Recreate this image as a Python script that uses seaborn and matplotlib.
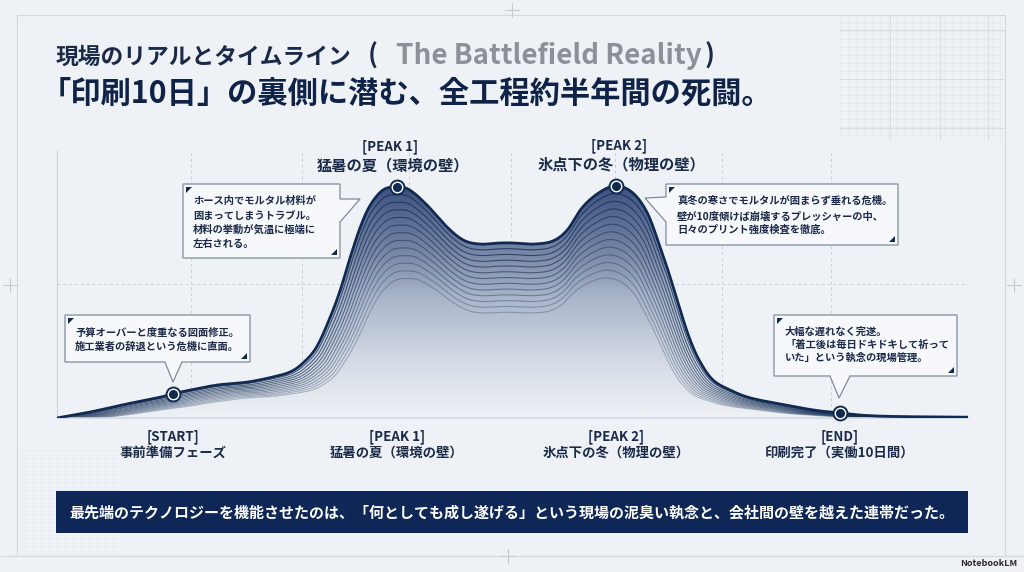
import numpy as np
import pandas as pd
import matplotlib
matplotlib.use("Agg")
import matplotlib.pyplot as plt
import seaborn as sns
from matplotlib.colors import LinearSegmentedColormap
from matplotlib.patches import Polygon, Rectangle

sns.set_theme(style="white")
plt.rcParams["font.family"] = ["Noto Sans CJK JP", "DejaVu Sans"]

# ======================================================
# Data
# ======================================================

# timeline position (0-100) and "pressure" level (0-100)
time_x = [0, 3.6, 7.2, 11.0, 12.7, 14.6, 17.6, 20.9, 23.7, 25.6, 27.0, 28.5,
          30.0, 31.1, 32.2, 33.3, 34.4, 35.8, 37.3, 38.7, 40.6, 42.8, 44.6,
          46.4, 48.6, 50.1, 52.3, 54.4, 56.0, 57.7, 59.6, 61.4, 63.2, 64.8,
          66.2, 67.3, 68.4, 69.5, 70.6, 72.0, 73.9, 76.1, 79.4, 83.0, 85.9,
          90.3, 100]
pressure = [0, 2.2, 4.9, 7.5, 9.0, 10.4, 12.3, 13.4, 15.3, 17.2, 20.5, 26.5,
            37.7, 47.8, 60.1, 71.3, 79.5, 85.1, 86.2, 85.1, 79.5, 71.3, 66.4,
            64.9, 65.3, 65.3, 64.9, 66.0, 70.1, 78.7, 84.3, 86.6, 84.0, 76.5,
            63.8, 52.6, 40.3, 29.1, 20.9, 14.2, 10.4, 7.5, 5.2, 3.0, 1.9,
            0.7, 0.3]

milestone_x = [12.7, 37.3, 61.4, 85.9]
milestone_y = [9.0, 86.2, 86.6, 1.9]
milestone_tags = ["[START]", "[PEAK 1]", "[PEAK 2]", "[END]"]
milestone_names = ["事前準備フェーズ", "猛暑の夏（環境の壁）", "氷点下の冬（物理の壁）", "印刷完了（実働10日間）"]

grid_x = [14.7, 26.9, 38.6, 49.8, 61.3, 73.0, 85.0]
grid_y = [50]

notes = {
    "start": ["予算オーバーと度重なる図面修正。", "施工業者の辞退という危機に直面。"],
    "peak1": ["ホース内でモルタル材料が", "固まってしまうトラブル。", "材料の挙動が気温に極端に", "左右される。"],
    "peak2": ["真冬の寒さでモルタルが固まらず垂れる危機。", "壁が10度傾けば崩壊するプレッシャーの中、", "日々のプリント強度検査を徹底。"],
    "end": ["大幅な遅れなく完遂。", "「着工後は毎日ドキドキして祈って", "いた」という執念の現場管理。"],
}

title_1 = "現場のリアルとタイムライン"
title_1_en = "The Battlefield Reality"
title_2 = "「印刷10日」の裏側に潜む、全工程約半年間の死闘。"
banner = "最先端のテクノロジーを機能させたのは、「何としても成し遂げる」という現場の泥臭い執念と、会社間の壁を越えた連帯だった。"

BG = "#eef2f6"
NAVY = "#112a52"
TXT = "#1b2a48"
GRID = "#d2d8e0"

# ======================================================
# Helpers
# ======================================================

def smooth(xs, ys, n=16):
    # Catmull-Rom pass so the line is drawn round, not angular
    P = np.column_stack([xs, ys]).astype(float)
    P = np.vstack([P[0], P, P[-1]])
    t = np.linspace(0, 1, n, endpoint=False)[:, None]
    out = []
    for i in range(1, len(P) - 2):
        p0, p1, p2, p3 = P[i - 1], P[i], P[i + 1], P[i + 2]
        seg = 0.5 * (2 * p1 + (-p0 + p2) * t
                     + (2 * p0 - 5 * p1 + 4 * p2 - p3) * t ** 2
                     + (-p0 + 3 * p1 - 3 * p2 + p3) * t ** 3)
        out.append(seg)
    out.append(P[-2][None])
    S = np.vstack(out)
    return S[:, 0], np.clip(S[:, 1], 0, None)


def callout(axx, box, tail, side, lines, tx, ty):
    x0, y0, x1, y1 = box
    a, tip, b = tail
    if side == "right":
        pts = [(x0, y0), (x1, y0), a, tip, b, (x1, y1), (x0, y1)]
    elif side == "left":
        pts = [(x0, y0), (x1, y0), (x1, y1), (x0, y1), b, tip, a]
    else:
        pts = [(x0, y0), (x1, y0), (x1, y1), b, tip, a, (x0, y1)]
    axx.add_patch(Polygon(pts, closed=True, facecolor="#f6f8fb",
                          edgecolor="#7f8b9c", lw=0.9, zorder=5))
    axx.add_patch(Polygon([(x0 + 3, y0 + 3), (x0 + 9, y0 + 3), (x0 + 3, y0 + 9)],
                          facecolor=NAVY, edgecolor="none", zorder=6))
    axx.add_patch(Polygon([(x1 - 3, y1 - 3), (x1 - 9, y1 - 3), (x1 - 3, y1 - 9)],
                          facecolor=NAVY, edgecolor="none", zorder=6))
    for line, yy in zip(lines, ty):
        axx.text(tx, yy, line, fontsize=7.4, fontweight="bold", color=TXT,
                 ha="left", va="center", zorder=7)


def frac(x0, y0, x1, y1):
    return [x0 / 1024, 1 - y1 / 572, (x1 - x0) / 1024, (y1 - y0) / 572]

# ======================================================
# Figure
# ======================================================

fig = plt.figure(figsize=(10.24, 5.72), dpi=100, facecolor=BG)

# background layer: frame, blueprint grid
bg = fig.add_axes([0, 0, 1, 1], zorder=0)
bg.set_xlim(0, 1024)
bg.set_ylim(572, 0)
bg.axis("off")

for gx in np.arange(840, 1006, 8):
    bg.plot([gx, gx], [15, 140], color="#e2e7ed", lw=0.4)
for gy in np.arange(15, 141, 8):
    bg.plot([840, 1005], [gy, gy], color="#e2e7ed", lw=0.4)
for gx in [890, 940, 988]:
    bg.plot([gx, gx], [15, 140], color="#d4dae2", lw=0.6)
for gy in [30, 79, 128]:
    bg.plot([840, 1005], [gy, gy], color="#d4dae2", lw=0.6)
for gx in np.arange(17, 120, 8):
    bg.plot([gx, gx], [450, 556], color="#e5e9ee", lw=0.4)
for gy in np.arange(450, 557, 8):
    bg.plot([17, 120], [gy, gy], color="#e5e9ee", lw=0.4)

bg.plot([17, 1005], [15, 15], color=GRID, lw=0.8)
bg.plot([17, 17], [15, 556], color=GRID, lw=0.8)
bg.plot([1005, 1005], [15, 556], color=GRID, lw=0.8)
bg.plot([0, 1024], [556, 556], color=GRID, lw=0.8)
for cx, cy in [(512, 10), (10, 285), (1014, 285), (508, 556)]:
    bg.plot([cx - 7, cx + 7], [cy, cy], color="#c4cbd4", lw=0.8)
    bg.plot([cx, cx], [cy - 7, cy + 7], color="#c4cbd4", lw=0.8)

# ======================================================
# Main timeline chart
# ======================================================

ax = fig.add_axes(frac(57, 150, 968, 418), zorder=1)
ax.set_facecolor("none")
ax.set_xlim(0, 100)
ax.set_ylim(0, 100)

sx, sy = smooth(time_x, pressure)
df = pd.DataFrame({"x": sx, "y": sy})

# gradient fill under the curve
cmap = LinearSegmentedColormap.from_list(
    "fade", [(0, BG), (0.2, "#d6dce6"), (0.45, "#a9b5c9"),
             (0.62, "#7686a5"), (0.86, "#3d5380"), (1, "#2c4170")])
grad = np.linspace(0, 1, 256).reshape(-1, 1)
im = ax.imshow(grad, extent=[0, 100, 0, 100], origin="lower", cmap=cmap,
               aspect="auto", zorder=1)
poly = ax.fill_between(sx, sy, 0, color="none", lw=0)
im.set_clip_path(poly.get_paths()[0], transform=ax.transData)

# layered echo lines under the main curve
center = 50
for k in range(12, 0, -1):
    f = 1 - k * 0.033
    s = 1 - k * 0.008
    yk = f * np.interp(center + (sx - center) / s, sx, sy, left=0, right=0)
    sns.lineplot(x=sx, y=yk, ax=ax, color=NAVY, lw=0.8,
                 alpha=max(0.8 - k * 0.045, 0.28), sort=False, estimator=None, zorder=2)

sns.lineplot(data=df, x="x", y="y", ax=ax, color=NAVY, lw=2.0,
             sort=False, estimator=None, zorder=3)

# milestone markers
ax.plot(milestone_x, milestone_y, "o", ms=10, mfc="white", mec=NAVY, mew=1.4,
        zorder=4, clip_on=False)
ax.plot(milestone_x, milestone_y, "o", ms=5.5, color=NAVY, zorder=5, clip_on=False)

# grid / spines
ax.set_xticks(grid_x, minor=True)
ax.set_yticks(grid_y)
ax.grid(False)
ax.grid(True, which="minor", axis="x", color="#c9cfd8", ls=(0, (3, 3)), lw=0.7)
ax.grid(True, which="major", axis="y", color="#c9cfd8", ls=(0, (3, 3)), lw=0.7)
ax.tick_params(axis="y", left=False, labelleft=False)
for side in ["top", "right"]:
    ax.spines[side].set_visible(False)
ax.spines["left"].set_color("#cfd5dd")
ax.spines["bottom"].set_color("#d3d9e1")
ax.spines["left"].set_linewidth(0.8)
ax.spines["bottom"].set_linewidth(1.2)

ax.set_xticks(milestone_x)
ax.set_xticklabels([f"{t}\n{n}" for t, n in zip(milestone_tags, milestone_names)],
                   fontsize=9.6, fontweight="bold", color=TXT, linespacing=1.2)
ax.tick_params(axis="x", which="both", bottom=False, pad=2)
ax.set_xlabel("")
ax.set_ylabel("")

# peak headers above the summits
for i, dx in [(1, -5), (2, 2)]:
    ax.annotate(milestone_tags[i], (milestone_x[i], milestone_y[i]),
                xytext=(dx, 29), textcoords="offset points", ha="center",
                va="center", fontsize=9.6, fontweight="bold", color=TXT,
                annotation_clip=False)
    ax.annotate(milestone_names[i], (milestone_x[i], milestone_y[i]),
                xytext=(dx + 2, 15.5), textcoords="offset points", ha="center",
                va="center", fontsize=11, fontweight="bold", color=TXT,
                annotation_clip=False)

# ======================================================
# Foreground: titles, callouts, banner
# ======================================================

fg = fig.add_axes([0, 0, 1, 1], zorder=2)
fg.set_xlim(0, 1024)
fg.set_ylim(572, 0)
fg.axis("off")
fg.patch.set_alpha(0)

fg.text(56, 64, title_1, fontsize=16.4, fontweight="bold", color=TXT,
        ha="left", va="baseline")
fg.text(368, 64, "(", fontsize=19, fontweight="bold", color=TXT,
        ha="left", va="baseline")
t2 = fg.text(396, 64, title_1_en, fontsize=20, fontweight="bold",
             color="#8c9199", ha="left", va="baseline")
fg.annotate(")", xy=(1, 0), xycoords=t2, xytext=(2, 0),
            textcoords="offset points", fontsize=19, fontweight="bold",
            color=TXT, ha="left", va="bottom")
fg.text(41, 94, title_2, fontsize=21.8, fontweight="bold", color="#0f2348",
        ha="left", va="center")

callout(fg, (183, 184, 340, 258), [(340, 199), (360, 199), (340, 222)], "right",
        notes["peak1"], 193, [201, 216, 230, 244])
callout(fg, (666, 184, 898, 245), [(666, 197), (645, 198), (666, 222)], "left",
        notes["peak2"], 677, [201, 216, 230])
callout(fg, (65, 315, 250, 362), [(165, 362), (173, 382), (182, 362)], "bottom",
        notes["start"], 75, [333, 347])
callout(fg, (774, 315, 957, 376), [(830, 376), (839, 398), (850, 376)], "bottom",
        notes["end"], 785, [332, 345, 358])

fg.add_patch(Rectangle((56, 491), 912, 42, facecolor="#0e2756", edgecolor="none"))
fg.text(512, 512, banner, fontsize=10.8, fontweight="bold", color="white",
        ha="center", va="center")

fg.text(1017, 563, "NotebookLM", fontsize=6.5, color="#2a2a2a", ha="right",
        va="center", fontweight="bold")

plt.savefig("out.png", dpi=100, facecolor=BG)
